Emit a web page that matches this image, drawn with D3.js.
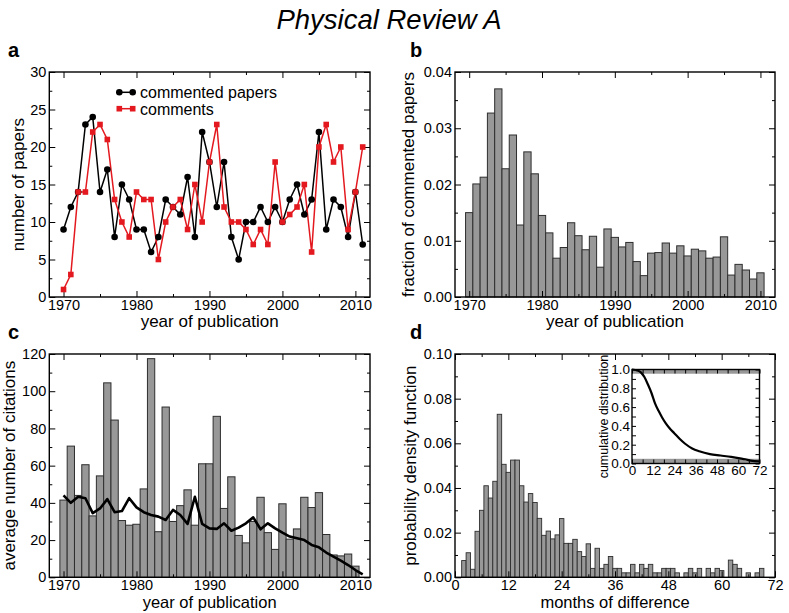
<!DOCTYPE html>
<html><head><meta charset="utf-8">
<script src="https://cdn.jsdelivr.net/npm/d3@7/dist/d3.min.js"></script>
<style>body{margin:0;background:#fff}</style>
</head><body>
<svg id="chart" width="789" height="613"></svg>
<script>
// ---------- DATA ----------
const yearsA = [1970,1971,1972,1973,1974,1975,1976,1977,1978,1979,1980,1981,1982,1983,1984,1985,1986,1987,1988,1989,1990,1991,1992,1993,1994,1995,1996,1997,1998,1999,2000,2001,2002,2003,2004,2005,2006,2007,2008,2009,2010,2011];
const commentedPapers = [9,12,14,23,24,14,17,8,15,13, 9,9,6,8,13,12,11,16,8,22, 18,12,18,8,5,10,10,12,10,12, 10,13,15,11,13,22,9,13,12,8, 14,7];
const comments = [1,3,14,14,22,23,21,13,10,8, 14,13,13,5,10,12,13,9,15,10, 18,23,12,10,10,9,7,9,7,18, 10,11,12,15,6,20,23,18,20,9, 14,20];

const yearsB = [1970,1971,1972,1973,1974,1975,1976,1977,1978,1979,1980,1981,1982,1983,1984,1985,1986,1987,1988,1989,1990,1991,1992,1993,1994,1995,1996,1997,1998,1999,2000,2001,2002,2003,2004,2005,2006,2007,2008,2009,2010];
const fractionCommented = [0.0150,0.0201,0.0213,0.0327,0.0370,0.0228,0.0288,0.0128,0.0258,0.0219, 0.0145,0.0114,0.0069,0.0088,0.0132,0.0109,0.0084,0.0108,0.0053,0.0121, 0.0106,0.0089,0.0097,0.0063,0.0038,0.0078,0.0079,0.0096,0.0078,0.0091, 0.0073,0.0085,0.0082,0.0069,0.0071,0.0107,0.0039,0.0058,0.0048,0.0032, 0.0043];

const avgCitations = [41.5,70.5,44,60.5,33,54.5,104.5,84.5,30.5,28, 28.5,47.5,117.5,24.5,91.5,30,38.5,47,28,61, 61,86.5,37,54,22.5,18.5,30,43,24,15, 39.5,20.5,26,43,37.5,45.5,23,12,11.5,12.5, 6];
const avgCitationsAll = [44,40,43.3,42.5,34.5,37,42,35,35.6,42.5, 37.6,35,33.5,32.6,30.8,36.2,33.5,28.7,43.3,28.7, 26.3,26,29,25,26.7,29,32.2,25.8,29,26.3, 24,21.9,21,20,17.4,16.1,13.3,11.1,9,6.6, 3.9,1.6];

const months = [2,3,4,5,6,7,8,9,10,11,12,13,14,15,16,17,18,19,20,21,22,23,24,25,26,27,28,29,30,31,32,33,34,35,36,37,38,39,40,41,42,43,44,45,46,47,48,49,50,51,52,53,54,55,56,57,58,59,60,61,62,63,64,65,66,67,68,69,70];
const pdfValues = [0.0075,0.011,0.0036,0.0206,0.030,0.041,0.0355,0.043,0.073,0.0506,0.047,0.0525,0.0525,0.041,0.0337,0.0375,0.0335,0.0264,0.0188,0.0207,0.0172,0.019,0.0263,0.0152,0.0152,0.017,0.0115,0.0093,
  0.015,0.004,0.013,0.004,0.0058,0.0093,0.004,0.004,0.002,0.002,0.0058,0.002,0.0058,0.004,0.0058,0.002,0.002,0.004,0.004,0.004,0.002,0,0.002,0.004,0.002,0.004,0,0.004,0.002,0.004,0.003,0,0.0077,0.0058,0.004,0,0.002,0,0.002,0.004,0];

const cumMonths = [0,3,5,7,9,11,13,15,17,19,21,24,27,30,34,38,44,50,56,61,64,67,72];
const cumValues = [1.0,0.99,0.97,0.92,0.84,0.75,0.64,0.56,0.49,0.43,0.38,0.32,0.26,0.21,0.16,0.13,0.10,0.085,0.07,0.055,0.045,0.03,0.022];

const yearTicks = [1970,1980,1990,2000,2010];
const yearMinor = [1975,1985,1995,2005];
const monthTicks = [0,12,24,36,48,60,72];
const monthMinor = [6,18,30,42,54,66];

// ---------- STYLE ----------
const FONT = '"Liberation Sans", Arial, Helvetica, sans-serif';
const RED = "#e3191f";
const BAR_FILL = "#989898";
const BAR_STROKE = "#2e2e2e";

const svg = d3.select("#chart");

function frameAxes(g, x, y, w, h, o) {
  const M = o.major || 6, m = o.minor || 3, fs = o.fontSize || 14.5;
  g.append("g").attr("transform", `translate(0,${h})`)
    .call(d3.axisBottom(x).tickValues(o.xMajor).tickSize(-M).tickPadding(o.xPad || 2.5).tickFormat(o.xFmt));
  g.append("g").attr("transform", `translate(0,${h})`)
    .call(d3.axisBottom(x).tickValues(o.xMinor).tickSize(-m).tickFormat(""));
  g.append("g").call(d3.axisTop(x).tickValues(o.xMajor).tickSize(-M).tickFormat(""));
  g.append("g").call(d3.axisTop(x).tickValues(o.xMinor).tickSize(-m).tickFormat(""));
  g.append("g").call(d3.axisLeft(y).tickValues(o.yMajor).tickSize(-M).tickPadding(o.yPad || 3).tickFormat(o.yFmt));
  g.append("g").call(d3.axisLeft(y).tickValues(o.yMinor).tickSize(-m).tickFormat(""));
  g.append("g").attr("transform", `translate(${w},0)`)
    .call(d3.axisRight(y).tickValues(o.yMajor).tickSize(-M).tickFormat(""));
  g.append("g").attr("transform", `translate(${w},0)`)
    .call(d3.axisRight(y).tickValues(o.yMinor).tickSize(-m).tickFormat(""));
  g.selectAll(".domain").remove();
  g.selectAll(".tick line").attr("stroke", "#000").attr("stroke-width", 1);
  g.selectAll(".tick text").attr("font-size", fs).attr("font-family", FONT).attr("fill", "#000");
  g.append("rect").attr("width", w).attr("height", h)
    .attr("fill", "none").attr("stroke", "#000").attr("stroke-width", 1.4);
}

function txt(x, y, s, opt = {}) {
  const t = svg.append("text").attr("x", x).attr("y", y).text(s)
    .attr("font-family", FONT).attr("font-size", opt.size || 17)
    .attr("text-anchor", opt.anchor || "middle").attr("fill", "#000");
  if (opt.weight) t.attr("font-weight", opt.weight);
  if (opt.style) t.attr("font-style", opt.style);
  if (opt.rotate) t.attr("transform", `rotate(-90,${x},${y})`);
  return t;
}

// ---------- TITLE & PANEL LETTERS ----------
txt(389, 29, "Physical Review A", {size: 27.5, style: "italic"});
txt(8, 57, "a", {size: 20, weight: "bold", anchor: "start"});
txt(410, 57, "b", {size: 20, weight: "bold", anchor: "start"});
txt(8, 339, "c", {size: 20, weight: "bold", anchor: "start"});
txt(410, 339, "d", {size: 20, weight: "bold", anchor: "start"});

// ---------- PANEL A ----------
{
  const L = 49.3, T = 72, W = 320.7, H = 225;
  const g = svg.append("g").attr("transform", `translate(${L},${T})`);
  const x = d3.scaleLinear().domain([1968.05, 2012]).range([0, W]);
  const y = d3.scaleLinear().domain([0, 30]).range([H, 0]);
  frameAxes(g, x, y, W, H, {xMajor: yearTicks, xMinor: yearMinor, yMajor: [0,5,10,15,20,25,30], yMinor: [2.5,7.5,12.5,17.5,22.5,27.5], xFmt: d3.format("d"), yFmt: d3.format("d")});
  const lineK = d3.line().x((d, i) => x(yearsA[i])).y(d => y(d));
  g.append("path").datum(commentedPapers).attr("d", lineK).attr("fill", "none").attr("stroke", "#000").attr("stroke-width", 1.5);
  g.append("path").datum(comments).attr("d", lineK).attr("fill", "none").attr("stroke", RED).attr("stroke-width", 1.5);
  g.selectAll(".pt").data(commentedPapers).enter().append("circle")
    .attr("cx", (d, i) => x(yearsA[i])).attr("cy", d => y(d)).attr("r", 3.3).attr("fill", "#000");
  const s = 5.6;
  g.selectAll(".sq").data(comments).enter().append("rect")
    .attr("x", (d, i) => x(yearsA[i]) - s / 2).attr("y", d => y(d) - s / 2)
    .attr("width", s).attr("height", s).attr("fill", RED);
  // legend
  const lg = svg.append("g");
  lg.append("line").attr("x1", 119.3).attr("x2", 132.7).attr("y1", 92.3).attr("y2", 92.3).attr("stroke", "#000").attr("stroke-width", 1.5);
  [119.3, 132.7].forEach(cx => lg.append("circle").attr("cx", cx).attr("cy", 92.3).attr("r", 3.3).attr("fill", "#000"));
  lg.append("line").attr("x1", 119.3).attr("x2", 132.7).attr("y1", 108.7).attr("y2", 108.7).attr("stroke", RED).attr("stroke-width", 1.5);
  [119.3, 132.7].forEach(cx => lg.append("rect").attr("x", cx - s / 2).attr("y", 108.7 - s / 2).attr("width", s).attr("height", s).attr("fill", RED));
  txt(140, 98, "commented papers", {size: 16, anchor: "start"});
  txt(140, 114.5, "comments", {size: 16, anchor: "start"});
  txt(24, T + H / 2, "number of papers", {rotate: true});
  txt(L + W / 2, 327, "year of publication");
}

// ---------- PANEL B ----------
{
  const L = 455, T = 72, W = 320, H = 225;
  const g = svg.append("g").attr("transform", `translate(${L},${T})`);
  const x = d3.scaleLinear().domain([1968.05, 2012]).range([0, W]);
  const y = d3.scaleLinear().domain([0, 0.04]).range([H, 0]);
  g.selectAll(".bar").data(fractionCommented).enter().append("rect")
    .attr("x", (d, i) => x(yearsB[i] - 0.5)).attr("width", x(1) - x(0))
    .attr("y", d => y(d)).attr("height", d => H - y(d))
    .attr("fill", BAR_FILL).attr("stroke", BAR_STROKE).attr("stroke-width", 1);
  frameAxes(g, x, y, W, H, {xMajor: yearTicks, xMinor: yearMinor, yMajor: [0,0.01,0.02,0.03,0.04], yMinor: [0.005,0.015,0.025,0.035], xFmt: d3.format("d"), yFmt: d3.format(".2f")});
  txt(414, T + H / 2, "fraction of commented papers", {rotate: true});
  txt(L + W / 2, 327, "year of publication");
}

// ---------- PANEL C ----------
{
  const L = 49.3, T = 354, W = 320.7, H = 223.3;
  const g = svg.append("g").attr("transform", `translate(${L},${T})`);
  const x = d3.scaleLinear().domain([1968.05, 2012]).range([0, W]);
  const y = d3.scaleLinear().domain([0, 120]).range([H, 0]);
  g.selectAll(".bar").data(avgCitations).enter().append("rect")
    .attr("x", (d, i) => x(yearsB[i] - 0.5)).attr("width", x(1) - x(0))
    .attr("y", d => y(d)).attr("height", d => H - y(d))
    .attr("fill", BAR_FILL).attr("stroke", BAR_STROKE).attr("stroke-width", 1);
  const line = d3.line().x((d, i) => x(yearsA[i])).y(d => y(d));
  g.append("path").datum(avgCitationsAll).attr("d", line).attr("fill", "none")
    .attr("stroke", "#000").attr("stroke-width", 2.6).attr("stroke-linejoin", "round");
  frameAxes(g, x, y, W, H, {xMajor: yearTicks, xMinor: yearMinor, yMajor: [0,20,40,60,80,100,120], yMinor: [10,30,50,70,90,110], xFmt: d3.format("d"), yFmt: d3.format("d")});
  txt(15, T + H / 2, "average number of citations", {rotate: true});
  txt(L + W / 2, 607.5, "year of publication", {size: 16.5});
}

// ---------- PANEL D ----------
{
  const L = 455, T = 354, W = 320, H = 223.3;
  const g = svg.append("g").attr("transform", `translate(${L},${T})`);
  const x = d3.scaleLinear().domain([0, 72]).range([0, W]);
  const y = d3.scaleLinear().domain([0, 0.10]).range([H, 0]);
  const hist = months.map((m, i) => ({m, v: pdfValues[i]})).filter(d => d.v > 0);
  g.selectAll(".bar").data(hist).enter().append("rect")
    .attr("x", d => x(d.m - 0.5)).attr("width", x(1) - x(0))
    .attr("y", d => y(d.v)).attr("height", d => H - y(d.v))
    .attr("fill", BAR_FILL).attr("stroke", BAR_STROKE).attr("stroke-width", 0.9);
  frameAxes(g, x, y, W, H, {xMajor: monthTicks, xMinor: monthMinor, yMajor: [0,0.02,0.04,0.06,0.08,0.10], yMinor: [0.01,0.03,0.05,0.07,0.09], xFmt: d3.format("d"), yFmt: d3.format(".2f")});
  txt(416, T + H / 2, "probability density function", {rotate: true});
  txt(L + W / 2, 607.5, "months of difference", {size: 16.5});

  // inset
  const iL = 632, iT = 369.5, iW = 127.5, iH = 94;
  const ig = svg.append("g").attr("transform", `translate(${iL},${iT})`);
  const ix = d3.scaleLinear().domain([0, 72]).range([0, iW]);
  const iy = d3.scaleLinear().domain([0, 1]).range([iH, 0]);
  ig.append("rect").attr("width", iW).attr("height", iH).attr("fill", "#fff");
  ig.append("rect").attr("x", 0).attr("width", iW).attr("y", iy(1)).attr("height", iy(0.955) - iy(1)).attr("fill", BAR_FILL);
  ig.append("rect").attr("x", 0).attr("width", iW).attr("y", iy(0.05)).attr("height", iy(0) - iy(0.05)).attr("fill", BAR_FILL);
  const cl = d3.line().x((d, i) => ix(cumMonths[i])).y(d => iy(d)).curve(d3.curveMonotoneX);
  ig.append("path").datum(cumValues).attr("d", cl).attr("fill", "none").attr("stroke", "#000").attr("stroke-width", 2.2);
  frameAxes(ig, ix, iy, iW, iH, {major: 4, minor: 4, fontSize: 13.5, xPad: 2, yPad: 2,
    xMajor: monthTicks, xMinor: monthMinor, yMajor: [0,0.2,0.4,0.6,0.8,1.0], yMinor: [0.1,0.3,0.5,0.7,0.9],
    xFmt: d3.format("d"), yFmt: d3.format(".1f")});
  txt(608, iT + iH / 2, "cumulative distribution", {size: 12.5, rotate: true});
}
</script>
</body></html>
